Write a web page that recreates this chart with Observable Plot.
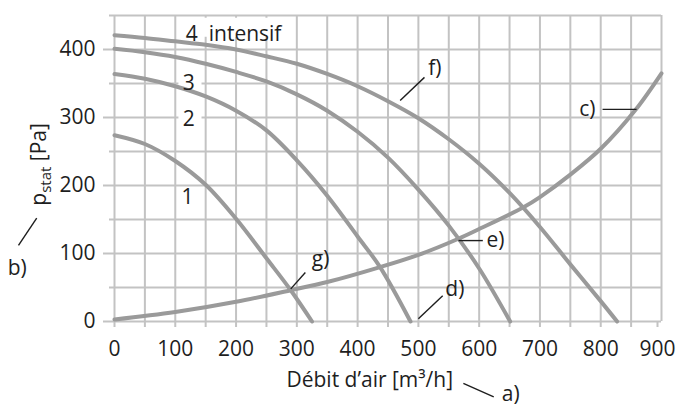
<!DOCTYPE html>
<html>
<head>
<meta charset="utf-8">
<script src="https://cdn.jsdelivr.net/npm/d3@7"></script>
<script src="https://cdn.jsdelivr.net/npm/@observablehq/plot@0.6"></script>
<style>
  html, body { margin: 0; padding: 0; background: white; }
</style>
</head>
<body>
<div id="chart"></div>
<script>
// ---- data ----
const xTicks = [0, 100, 200, 300, 400, 500, 600, 700, 800];
const xLastTick = [900];
const xMinorTicks = [50, 150, 250, 350, 450, 550, 650, 750, 850];
const yTicks = [0, 100, 200, 300, 400];
const yMinorTicks = [50, 150, 250, 350, 450];

const flow1 = [0, 50, 100, 150, 200, 250, 290, 325];
const pres1 = [274, 261, 236, 201, 151, 93, 46, 0];

const flow2 = [0, 50, 100, 150, 200, 250, 300, 350, 400, 437, 487];
const pres2 = [364, 357, 346, 331, 310, 281, 237, 185, 125, 80, 0];

const flow3 = [0, 50, 100, 150, 200, 250, 300, 350, 400, 450, 500, 550, 600, 651];
const pres3 = [401, 396, 389, 379, 367, 353, 334, 310, 279, 241, 194, 141, 78, 0];

const flow4 = [0, 50, 100, 150, 200, 250, 300, 350, 400, 450, 500, 550, 600, 650, 700, 750, 800, 827];
const pres4 = [421, 417, 412, 407, 400, 390, 379, 364, 346, 324, 299, 268, 232, 189, 139, 84, 30, 0];

const flowSys = [0, 100, 200, 290, 350, 437, 500, 564, 600, 673, 700, 750, 800, 857, 900];
const presSys = [3, 14, 29, 46, 58, 80, 98, 121, 136, 168, 183, 216, 254, 311, 365];

const curveNames = ["1", "2", "3", "4", "c"];
const xLabel = "Débit d’air [m³/h]";
const yLabel = "pstat [Pa]";

// curve labels (data-space anchor positions)
const curveLabels = [
  {text: "4\u00a0\u00a0intensif", x: 196, y: 423},
  {text: "3", x: 122, y: 350},
  {text: "2", x: 122, y: 298},
  {text: "1", x: 120, y: 182}
];
// white boxes behind labels
const labelBoxes = [
  {x1: 110, x2: 276, y1: 418, y2: 446},
  {x1: 106, x2: 144, y1: 337, y2: 362},
  {x1: 106, x2: 144, y1: 286, y2: 311}
];
// annotation letters
const notes = [
  {text: "f)", x: 527, y: 373},
  {text: "c)", x: 778, y: 312},
  {text: "e)", x: 627, y: 120},
  {text: "d)", x: 560, y: 47},
  {text: "g)", x: 339, y: 91},
  {text: "a)", x: 652, y: -107},
  {text: "b)", x: -160, y: 78}
];
const leaders = [
  {x1: 510, y1: 359, x2: 470, y2: 325},
  {x1: 803, y1: 312, x2: 859, y2: 312},
  {x1: 566, y1: 119, x2: 606, y2: 119},
  {x1: 540, y1: 38, x2: 500, y2: 4},
  {x1: 314, y1: 72, x2: 290, y2: 48},
  {x1: 574, y1: -91, x2: 624, y2: -111},
  {x1: -128, y1: 152, x2: -158, y2: 112}
];
const xLabelPos = {x: 420, y: -86};
const yLabelPos = {x: -124, y: 231};

// ---- build table ----
const series = [
  [flow1, pres1], [flow2, pres2], [flow3, pres3], [flow4, pres4], [flowSys, presSys]
];
const rows = series.flatMap(([xs, ys], i) => xs.map((x, j) => ({curve: curveNames[i], q: x, p: ys[j]})));

const gridColor = "#c3c3c3";
const curveColor = "#9a9a9a";
const textColor = "#1e1e1e";
const font = "'Open Sans', 'Noto Sans', sans-serif";
const axisStyle = {stroke: gridColor, strokeWidth: 2, fill: textColor, fontSize: 21, label: null};

const chart = Plot.plot({
  width: 678,
  height: 408,
  marginLeft: 114,
  marginRight: 17,
  marginTop: 15,
  marginBottom: 87,
  x: {domain: [0, 900]},
  y: {domain: [0, 450]},
  style: {fontFamily: font, fontSize: "21px", color: textColor, background: "white"},
  marks: [
    Plot.gridX([...xTicks, ...xLastTick, ...xMinorTicks], {stroke: gridColor, strokeOpacity: 1, strokeWidth: 2}),
    Plot.gridY([...yTicks, ...yMinorTicks], {stroke: gridColor, strokeOpacity: 1, strokeWidth: 2}),
    Plot.axisX(xTicks, {tickSize: 6, tickPadding: 14, ...axisStyle}),
    Plot.axisX(xLastTick, {tickSize: 6, tickPadding: 14, dx: -4, ...axisStyle}),
    Plot.axisX(xMinorTicks, {tickSize: 6, tickFormat: () => "", ...axisStyle}),
    Plot.axisY(yTicks, {tickSize: 11, tickPadding: 8, ...axisStyle}),
    Plot.axisY(yMinorTicks, {tickSize: 5, tickFormat: () => "", ...axisStyle}),
    Plot.rect(labelBoxes, {x1: "x1", x2: "x2", y1: "y1", y2: "y2", fill: "white"}),
    Plot.line(rows, {x: "q", y: "p", z: "curve", stroke: curveColor, strokeWidth: 4, curve: "catmull-rom"}),
    Plot.text(curveLabels, {x: "x", y: "y", text: "text", fontSize: 21, fill: textColor}),
    Plot.link(leaders, {x1: "x1", y1: "y1", x2: "x2", y2: "y2", stroke: textColor, strokeWidth: 1.4}),
    Plot.text(notes, {x: "x", y: "y", text: "text", fontSize: 21, fill: textColor}),
    Plot.text([xLabelPos], {x: "x", y: "y", text: () => xLabel, fontSize: 21, fill: textColor}),
    Plot.text([yLabelPos], {x: "x", y: "y", text: () => yLabel, rotate: -90, fontSize: 21, fill: textColor})
  ]
});

document.getElementById("chart").appendChild(chart);

// subscript in y label
d3.select(chart).selectAll("text").each(function() {
  if (this.textContent === yLabel) {
    const t = d3.select(this);
    t.text(null);
    t.append("tspan").text("p");
    t.append("tspan").attr("font-size", 15).attr("dy", 5).text("stat");
    t.append("tspan").attr("dy", -5).text(" [Pa]");
  }
});
</script>
</body>
</html>
